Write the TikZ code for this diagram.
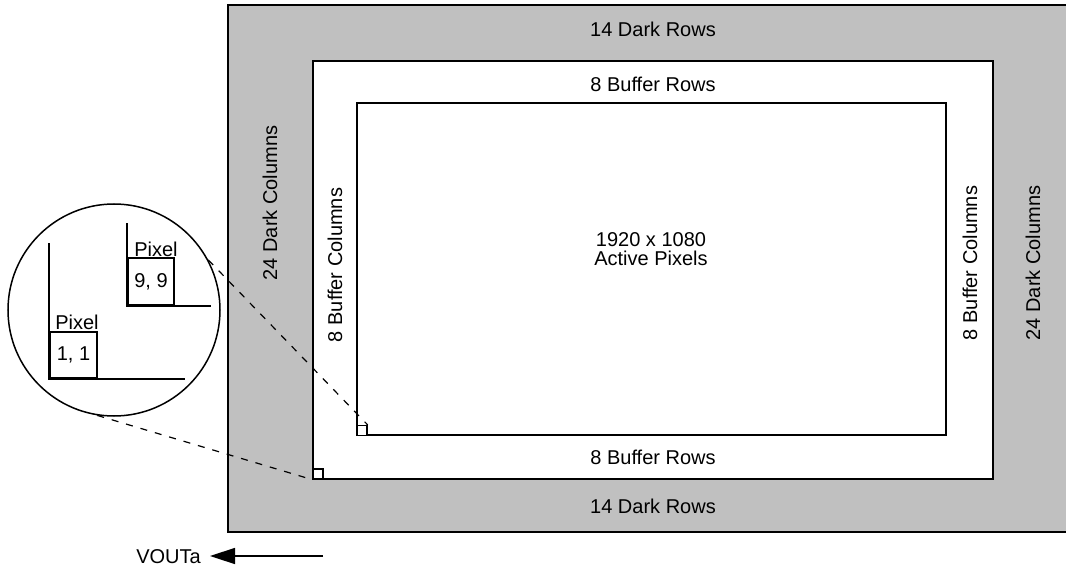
\documentclass[tikz,border=0pt]{standalone}
\usepackage{fontspec}
\setmainfont{Liberation Sans}
\usetikzlibrary{arrows.meta}
\definecolor{darkgrey}{HTML}{C0C0C0}
\tikzset{
  lbl/.style={font=\fontsize{20}{18.5}\selectfont, inner sep=0pt},
  vlbl/.style={lbl, rotate=90, anchor=base},
  frame/.style={draw=black, line width=1.5pt},
  sq/.style={draw=black, line width=1.3pt, minimum size=10pt, inner sep=0pt, fill=white},
  pixbox/.style={draw=black, line width=2pt, inner sep=0pt, font=\fontsize{20}{20}\selectfont},
  zoomline/.style={dashed, dash pattern=on 7pt off 8pt, line width=1.2pt},
  edge/.style={line width=1.5pt}
}
\begin{document}
\begin{tikzpicture}[x=1pt,y=-1pt]
\useasboundingbox (0,0) rectangle (1066,567);
% grey dark area
\path[frame, fill=darkgrey] (228,5) rectangle (1080,532);
% buffer area
\path[frame, fill=white] (313,61) rectangle (993,479);
% active area
\path[frame, fill=white] (357,103) rectangle (946,435);
% labels
\node[lbl, anchor=base] (dtop) at (653,37) {14 Dark Rows};
\node[lbl, anchor=base] (btop) at (653,92) {8 Buffer Rows};
\node[lbl, anchor=base, align=center] (act) at (651,265) {1920 x 1080\\Active Pixels};
\node[lbl, anchor=base] (bbot) at (653,464) {8 Buffer Rows};
\node[lbl, anchor=base] (dbot) at (653,513) {14 Dark Rows};
\node[vlbl] (dleft) at (277,203) {24 Dark Columns};
\node[vlbl] (bleft) at (342,265) {8 Buffer Columns};
\node[vlbl] (bright) at (977,263) {8 Buffer Columns};
\node[vlbl] (dright) at (1040,263) {24 Dark Columns};
% small corner squares
\node[sq] (sqout) at (318,474) {};
\node[sq] (sqin) at (362,430.5) {};
% magnifier circle
\node[circle, draw=black, line width=1.5pt, minimum size=212pt, inner sep=0pt, fill=white] (zoom) at (114,310) {};
% inside circle: lower pixel
\coordinate (la) at (49,243);
\coordinate (lc) at (49,379);
\coordinate (lb) at (185,379);
\draw[edge] (la) -- (lc) -- (lb);
\node[pixbox, minimum width=47pt, minimum height=46pt, anchor=south west] (p11) at (49,379) {1, 1};
\node[lbl, anchor=base] (pl1) at (77,329) {Pixel};
% inside circle: upper pixel
\coordinate (ua) at (127,223);
\coordinate (uc) at (127,306);
\coordinate (ub) at (211,306);
\draw[edge] (ua) -- (uc) -- (ub);
\node[pixbox, minimum width=46pt, minimum height=47pt, anchor=south west] (p99) at (127,306) {9, 9};
\node[lbl, anchor=base] (pl9) at (156,256) {Pixel};
% dashed zoom lines
\draw[zoomline] (zoom.28) -- (sqin.north east);
\draw[zoomline] (zoom.261) -- (sqout.south west);
% VOUTa arrow
\coordinate (astart) at (323,556);
\node[lbl, anchor=base east] (vout) at (201,563) {VOUTa};
\draw[edge, -{Triangle[length=25pt,width=16pt]}] (astart) -- (210,556);
\end{tikzpicture}
\end{document}
